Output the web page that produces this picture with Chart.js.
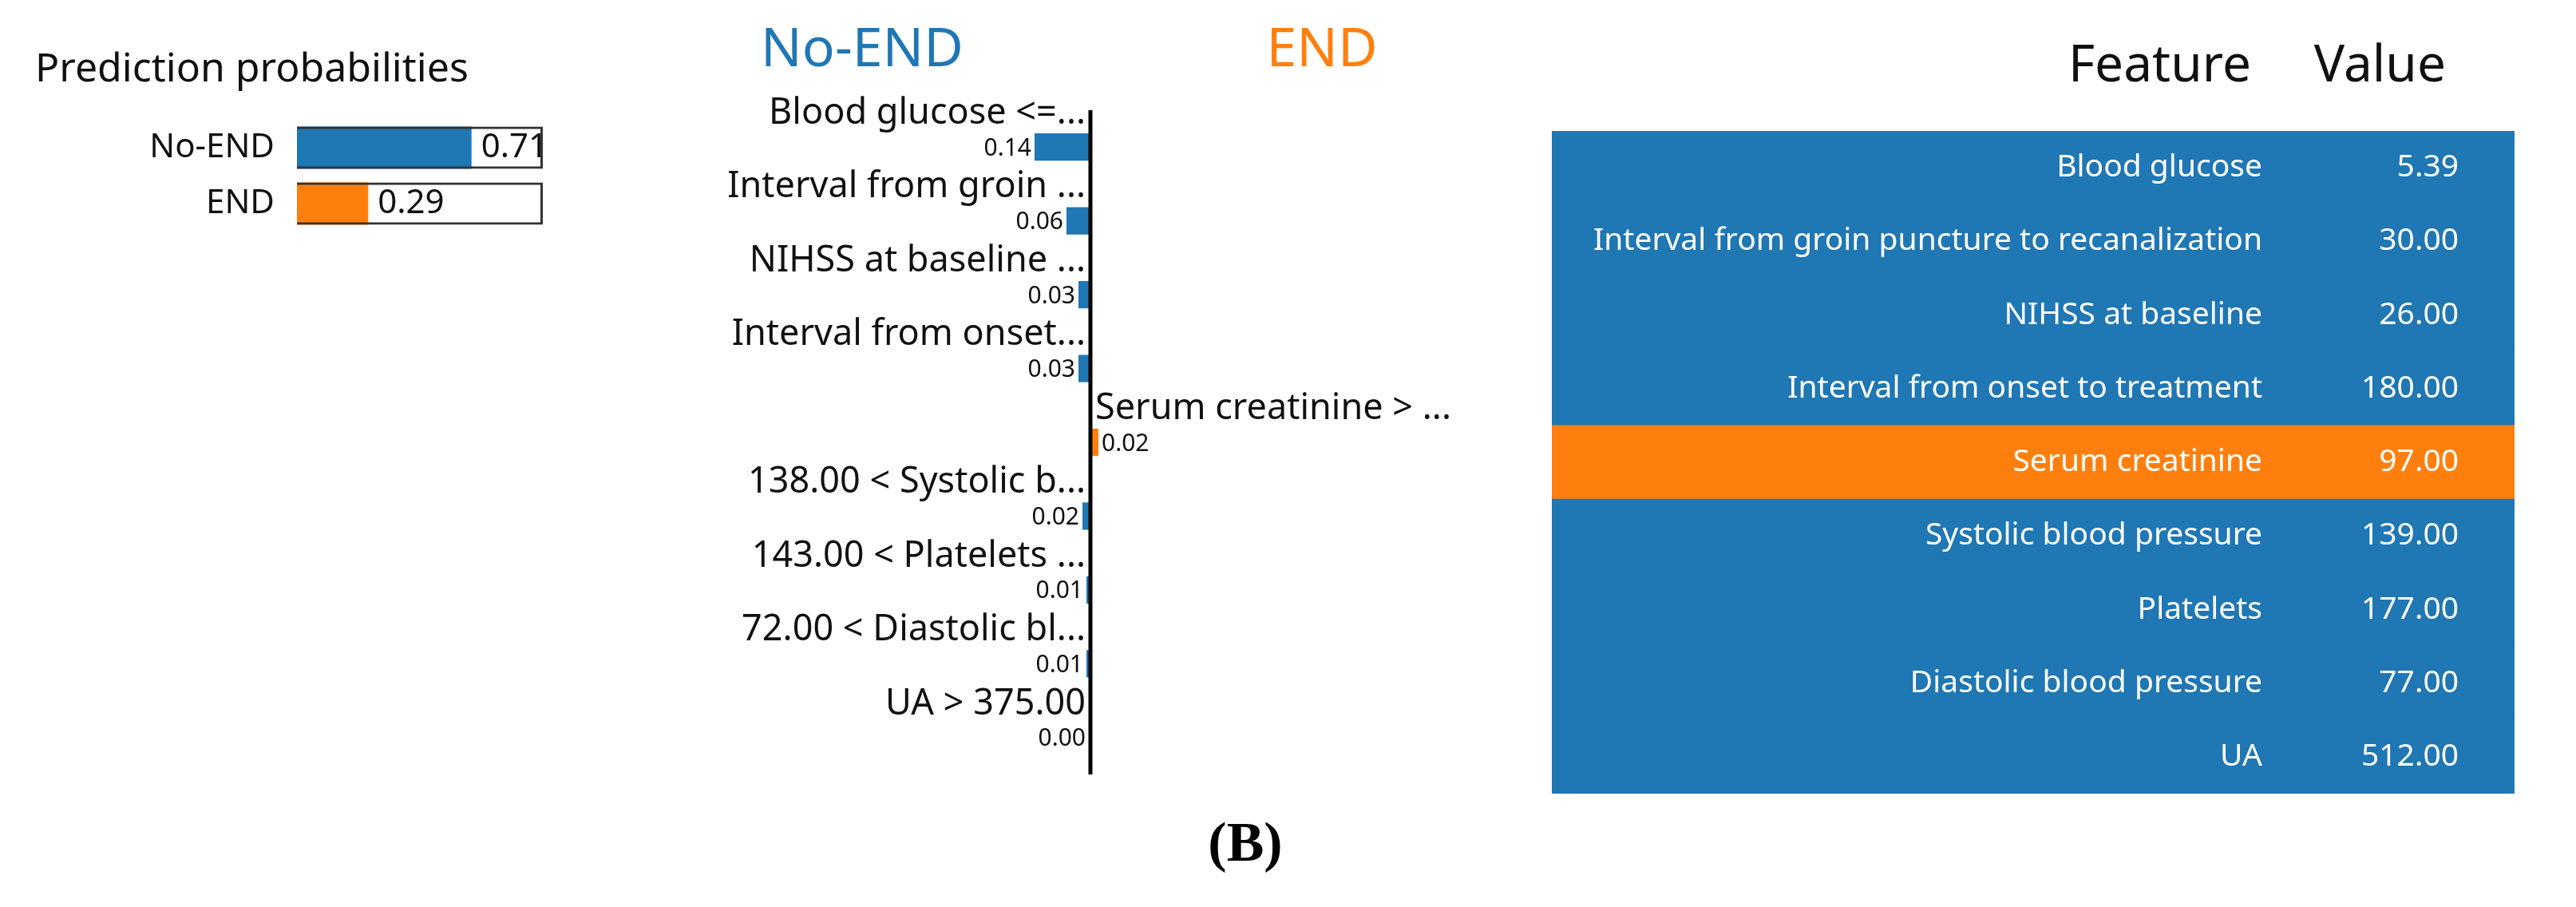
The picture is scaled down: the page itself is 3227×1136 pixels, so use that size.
<!DOCTYPE html>
<html>
<head>
<meta charset="utf-8">
<script src="https://cdn.jsdelivr.net/npm/chart.js@4"></script>
<style>
  body { margin: 0; background: #fff; width: 3227px; height: 1136px; position: relative; overflow: hidden; }
  canvas { position: absolute; }
  #tag { position: absolute; left: 1460px; top: 1015px; width: 200px; text-align: center;
         font: bold 70px "Liberation Serif", serif; color: #000; }
</style>
</head>
<body>
<canvas id="probChart" width="900" height="400" style="left:0;top:0"></canvas>
<canvas id="limeChart" width="1200" height="1000" style="left:800px;top:0"></canvas>
<canvas id="tableChart" width="1327" height="1050" style="left:1900px;top:0"></canvas>
<div id="tag">(B)</div>
<script>
const BLUE = '#1f77b4', ORANGE = '#ff7f0e';
const FONT = '"Noto Sans", "Open Sans", sans-serif';

// prediction probabilities
const classNames = ['No-END', 'END'];
const classProbs = [0.71, 0.29];

// feature contributions (negative = No-END, positive = END)
const ruleLabels = ['Blood glucose <=...', 'Interval from groin ...', 'NIHSS at baseline ...',
  'Interval from onset...', 'Serum creatinine > ...', '138.00 < Systolic b...',
  '143.00 < Platelets ...', '72.00 < Diastolic bl...', 'UA > 375.00'];
const ruleWeights = [-0.14, -0.06, -0.03, -0.03, 0.02, -0.02, -0.01, -0.01, -0.004];
const weightText = ['0.14', '0.06', '0.03', '0.03', '0.02', '0.02', '0.01', '0.01', '0.00'];

// feature value table
const featureNames = ['Blood glucose', 'Interval from groin puncture to recanalization',
  'NIHSS at baseline', 'Interval from onset to treatment', 'Serum creatinine',
  'Systolic blood pressure', 'Platelets', 'Diastolic blood pressure', 'UA'];
const featureValues = ['5.39', '30.00', '26.00', '180.00', '97.00', '139.00', '177.00', '77.00', '512.00'];

const hidden = { display: false };

// --- left: prediction probabilities
new Chart(document.getElementById('probChart'), {
  type: 'bar',
  data: {
    labels: classNames,
    datasets: [
      { data: classProbs, backgroundColor: [BLUE, ORANGE], order: 1 },
      { data: classNames.map(() => 1), backgroundColor: 'rgba(0,0,0,0)',
        borderColor: '#333', borderWidth: 3, order: 0 }
    ]
  },
  options: {
    indexAxis: 'y', responsive: false, devicePixelRatio: 1, animation: false,
    layout: { padding: { left: 372, right: 220, top: 150, bottom: 110 } },
    datasets: { bar: { grouped: false, barPercentage: 0.76, categoryPercentage: 1 } },
    scales: { x: { min: 0, max: 1, display: false }, y: hidden },
    plugins: { legend: hidden, tooltip: hidden }
  },
  plugins: [{
    id: 'probText',
    afterDraw(chart) {
      const c = chart.ctx, x = chart.scales.x, y = chart.scales.y;
      c.save();
      c.fillStyle = '#111';
      c.textBaseline = 'middle';
      c.font = '50px ' + FONT;
      c.textAlign = 'left';
      c.fillText('Prediction probabilities', 44, 88);
      c.font = '42px ' + FONT;
      classProbs.forEach((p, i) => {
        const yy = y.getPixelForValue(i);
        c.textAlign = 'right';
        c.fillText(classNames[i], 344, yy);
        c.textAlign = 'left';
        c.fillText(p.toFixed(2), x.getPixelForValue(p) + 12, yy);
      });
      c.restore();
    }
  }]
});

// --- middle: rule contributions
new Chart(document.getElementById('limeChart'), {
  type: 'bar',
  data: {
    labels: ruleLabels,
    datasets: [{ data: ruleWeights, backgroundColor: ruleWeights.map(v => v > 0 ? ORANGE : BLUE) }]
  },
  options: {
    indexAxis: 'y', responsive: false, devicePixelRatio: 1, animation: false,
    layout: { padding: { left: 66, right: 134, top: 138, bottom: 30 } },
    datasets: { bar: { barPercentage: 0.37, categoryPercentage: 1 } },
    scales: { x: { min: -1, max: 1, display: false }, y: hidden },
    plugins: { legend: hidden, tooltip: hidden }
  },
  plugins: [{
    id: 'limeText',
    afterDraw(chart) {
      const c = chart.ctx, x = chart.scales.x, y = chart.scales.y, a = chart.chartArea;
      const x0 = x.getPixelForValue(0);
      c.save();
      c.strokeStyle = '#000';
      c.lineWidth = 5;
      c.beginPath();
      c.moveTo(x0, a.top);
      c.lineTo(x0, a.bottom);
      c.stroke();
      c.textBaseline = 'middle';
      c.font = '68px ' + FONT;
      c.textAlign = 'center';
      c.fillStyle = BLUE;
      c.fillText('No-END', 280, 64);
      c.fillStyle = ORANGE;
      c.fillText('END', 856, 64);
      c.fillStyle = '#111';
      ruleWeights.forEach((w, i) => {
        const yy = y.getPixelForValue(i);
        const xe = x.getPixelForValue(w);
        c.font = '45px ' + FONT;
        if (w > 0) {
          c.textAlign = 'left';
          c.fillText(ruleLabels[i], x0 + 6, yy - 42);
          c.font = '30px ' + FONT;
          c.fillText(weightText[i], xe + 4, yy + 2);
        } else {
          c.textAlign = 'right';
          c.fillText(ruleLabels[i], x0 - 6, yy - 42);
          c.font = '30px ' + FONT;
          c.fillText(weightText[i], xe - 4, yy + 2);
        }
      });
      c.restore();
    }
  }]
});

// --- right: feature / value table
new Chart(document.getElementById('tableChart'), {
  type: 'bar',
  data: {
    labels: featureNames,
    datasets: [{ data: featureNames.map(() => 1),
      backgroundColor: ruleWeights.map(v => v > 0 ? ORANGE : BLUE) }]
  },
  options: {
    indexAxis: 'y', responsive: false, devicePixelRatio: 1, animation: false,
    layout: { padding: { left: 44, right: 77, top: 164, bottom: 56 } },
    datasets: { bar: { barPercentage: 1, categoryPercentage: 1 } },
    scales: { x: { min: 0, max: 1, display: false }, y: hidden },
    plugins: { legend: hidden, tooltip: hidden }
  },
  plugins: [{
    id: 'tableText',
    afterDraw(chart) {
      const c = chart.ctx, y = chart.scales.y;
      c.save();
      c.textBaseline = 'middle';
      c.textAlign = 'right';
      c.fillStyle = '#111';
      c.font = '64px ' + FONT;
      c.fillText('Feature', 920, 84);
      c.fillText('Value', 1164, 84);
      c.fillStyle = '#fff';
      c.font = '39px ' + FONT;
      featureNames.forEach((f, i) => {
        const yy = y.getPixelForValue(i);
        c.fillText(f, 934, yy);
        c.fillText(featureValues[i], 1180, yy);
      });
      c.restore();
    }
  }]
});
</script>
</body>
</html>
